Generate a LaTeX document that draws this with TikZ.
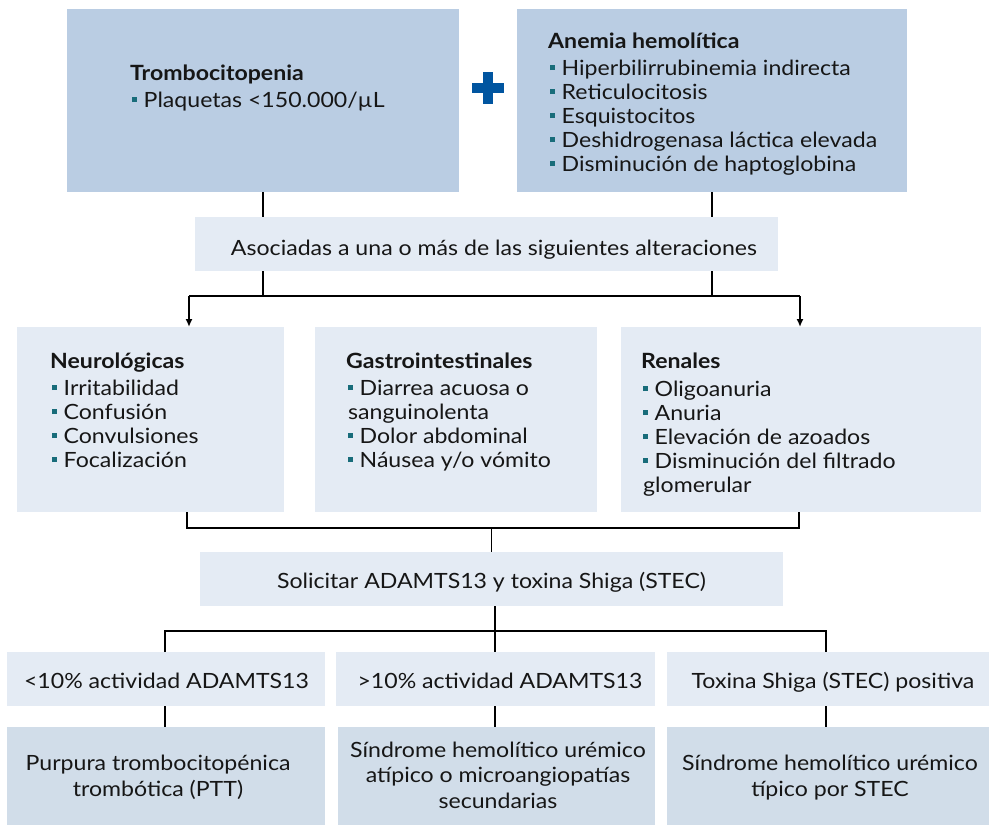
\documentclass[tikz,border=0pt]{standalone}
\usepackage{fontspec}
\setmainfont{Lato}[FakeStretch=1.1]
\usetikzlibrary{arrows.meta}
\definecolor{topbox}{RGB}{186,205,227}
\definecolor{lightbox}{RGB}{228,235,244}
\definecolor{botbox}{RGB}{209,221,233}
\definecolor{bulcol}{RGB}{24,108,122}
\definecolor{plusblue}{RGB}{0,85,160}
\definecolor{ink}{RGB}{22,22,22}
\newcommand\bul{\hspace*{1.5pt}\textcolor{bulcol}{\rule[5pt]{5pt}{5pt}}\hspace{7pt}}
\begin{document}
\begin{tikzpicture}[x=1pt,y=-1pt,
  box/.style={anchor=north west, inner sep=0pt, outer sep=0pt},
  txt/.style={text=ink, inner sep=0pt, anchor=base west, font=\fontsize{21}{24}\selectfont},
  ttl/.style={txt, font=\fontsize{21}{24}\selectfont\bfseries},
  ctr/.style={text=ink, inner sep=0pt, anchor=base, font=\fontsize{21}{24}\selectfont},
  conn/.style={line width=2pt},
  conl/.style={line width=1.6pt},
  arr/.style={conn, -{Latex[length=8pt,width=7pt]}}]
\useasboundingbox (0,0) rectangle (989,825);
% boxes
\node[box, fill=topbox, minimum width=392pt, minimum height=183pt] (tl) at (67,9) {};
\node[box, fill=topbox, minimum width=390pt, minimum height=183pt] (tr) at (517,9) {};
\node[box, fill=lightbox, minimum width=583pt, minimum height=54pt] (asoc) at (195,217) {};
\node[box, fill=lightbox, minimum width=267pt, minimum height=185pt] (neu) at (17,327) {};
\node[box, fill=lightbox, minimum width=282pt, minimum height=185pt] (gas) at (315,327) {};
\node[box, fill=lightbox, minimum width=360pt, minimum height=185pt] (ren) at (621,327) {};
\node[box, fill=lightbox, minimum width=583pt, minimum height=54pt] (sol) at (200,552) {};
\node[box, fill=lightbox, minimum width=318pt, minimum height=54pt] (r1) at (7,652) {};
\node[box, fill=lightbox, minimum width=319pt, minimum height=54pt] (r2) at (336,652) {};
\node[box, fill=lightbox, minimum width=322pt, minimum height=54pt] (r3) at (667,652) {};
\node[box, fill=botbox, minimum width=318pt, minimum height=98pt] (b1) at (7,727) {};
\node[box, fill=botbox, minimum width=317pt, minimum height=98pt] (b2) at (338,727) {};
\node[box, fill=botbox, minimum width=322pt, minimum height=98pt] (b3) at (667,727) {};
% plus sign
\fill[plusblue] (472,82.7) rectangle (504,93.3);
\fill[plusblue] (482.7,72) rectangle (493.3,104);
% connectors
\coordinate (j1) at (189,296);
\coordinate (j2) at (800,296);
\draw[conn] (tl.south) -- (tl.south |- asoc.north);
\draw[conn] (tr.south) -- (tr.south |- asoc.north);
\draw[conn] (tl.south |- asoc.south) -- (tl.south |- j1);
\draw[conn] (tr.south |- asoc.south) -- (tr.south |- j1);
\draw[conn] (j1) -- (j2);
\draw[arr] (j1) -- (j1 |- neu.north);
\draw[arr] (j2) -- (j2 |- ren.north);
\coordinate (k1) at (187,528);
\coordinate (k2) at (799,528);
\draw[conl] (k1 |- neu.south) -- (k1) -- (k2) -- (k2 |- ren.south);
\draw[conl] (sol.north |- k1) -- (sol.north);
\coordinate (m1) at (165,631);
\coordinate (m2) at (495,631);
\coordinate (m3) at (826,631);
\draw[conl] (m2 |- sol.south) -- (m2);
\draw[conl] (m1 |- r1.north) -- (m1) -- (m3) -- (m3 |- r3.north);
\draw[conl] (m2) -- (m2 |- r2.north);
\draw[conl] (m1 |- r1.south) -- (m1 |- b1.north);
\draw[conl] (m2 |- r2.south) -- (m2 |- b2.north);
\draw[conl] (m3 |- r3.south) -- (m3 |- b3.north);
% top texts
\node[ttl] (tlT) at (130,80) {Trombocitopenia};
\node[txt] (tl1) at (130,107) {\bul Plaquetas <150.000/µL};
\node[ttl] (trT) at (548,48) {Anemia hemolítica};
\foreach \t [count=\i] in {Hiperbilirrubinemia indirecta, Reticulocitosis, Esquistocitos, Deshidrogenasa láctica elevada, Disminución de haptoglobina}
  \node[txt] (tr\i) at (548,{51+24*\i}) {\bul \t};
\node[ctr] (asocT) at (494,255) {Asociadas a una o más de las siguientes alteraciones};
% row 3
\node[ttl] (neuT) at (50,368) {Neurológicas};
\foreach \t [count=\i] in {Irritabilidad, Confusión, Convulsiones, Focalización}
  \node[txt] (neu\i) at (50,{371+24*\i}) {\bul \t};
\node[ttl] (gasT) at (346,368) {Gastrointestinales};
\node[txt] (gas1) at (346,395) {\bul Diarrea acuosa o};
\node[txt] (gas2) at (348,419) {sanguinolenta};
\node[txt] (gas3) at (346,443) {\bul Dolor abdominal};
\node[txt] (gas4) at (346,467) {\bul Náusea y/o vómito};
\node[ttl] (renT) at (641,368) {Renales};
\foreach \t [count=\i] in {Oligoanuria, Anuria, Elevación de azoados, Disminución del filtrado}
  \node[txt] (ren\i) at (641,{372+24*\i}) {\bul \t};
\node[txt] (ren5) at (643,492) {glomerular};
% lower texts
\node[ctr] (solT) at (491.5,588) {Solicitar ADAMTS13 y toxina Shiga (STEC)};
\node[ctr] (r1T) at (166.5,688) {<10\% actividad ADAMTS13};
\node[ctr] (r2T) at (500,688) {>10\% actividad ADAMTS13};
\node[ctr] (r3T) at (833,688) {Toxina Shiga (STEC) positiva};
\node[ctr] (b1a) at (158,770) {Purpura trombocitopénica};
\node[ctr] (b1b) at (158,796) {trombótica (PTT)};
\node[ctr] (b2a) at (498,757) {Síndrome hemolítico urémico};
\node[ctr] (b2b) at (498,782.5) {atípico o microangiopatías};
\node[ctr] (b2c) at (498,808) {secundarias};
\node[ctr] (b3a) at (830,770) {Síndrome hemolítico urémico};
\node[ctr] (b3b) at (830,796) {típico por STEC};
\end{tikzpicture}
\end{document}
